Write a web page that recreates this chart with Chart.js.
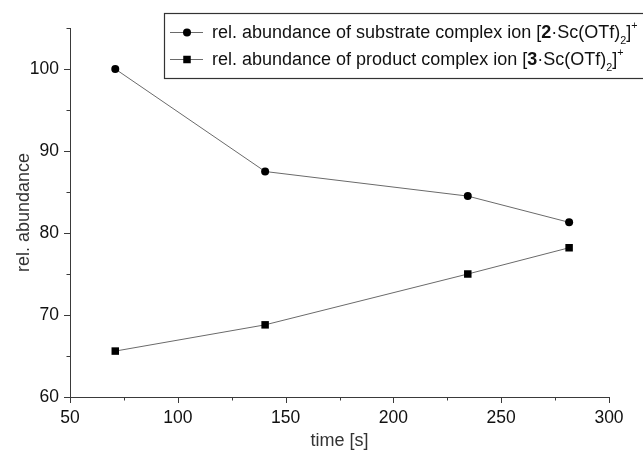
<!DOCTYPE html>
<html>
<head>
<meta charset="utf-8">
<script src="https://cdn.jsdelivr.net/npm/chart.js@4.4.1/dist/chart.umd.min.js"></script>
<style>
  html, body { margin: 0; padding: 0; background: #fff; }
  #wrap { width: 643px; height: 452px; }
</style>
</head>
<body>
<div id="wrap"><canvas id="c" width="643" height="452"></canvas></div>
<script>
// Reaction time in seconds
const timeS = [71, 140.5, 234.5, 281.5];
// Relative abundance of the substrate complex ion [2·Sc(OTf)2]+
const substrate = [100, 87.5, 84.5, 81.3];
// Relative abundance of the product complex ion [3·Sc(OTf)2]+
const product = [65.6, 68.8, 75.0, 78.2];

const xMajor = [50, 100, 150, 200, 250, 300];
const xMinor = [75, 125, 175, 225, 275];
const yMajor = [60, 70, 80, 90, 100];
const yMinor = [65, 75, 85, 95, 105];

// legend entries: rich text pieces (plain / bold / sub / sup)
const legendItems = [
  { marker: 'circle', parts: [
    ['rel. abundance of substrate complex ion [', 'n'], ['2', 'b'], ['·Sc(OTf)', 'n'],
    ['2', 'sub'], [']', 'n'], ['+', 'sup'] ] },
  { marker: 'rect', parts: [
    ['rel. abundance of product complex ion [', 'n'], ['3', 'b'], ['·Sc(OTf)', 'n'],
    ['2', 'sub'], [']', 'n'], ['+', 'sup'] ] }
];

const FONT = '"Liberation Sans", Arial, Helvetica, sans-serif';
const LINE = '#6a6a6a';
const AXIS = '#3a3a3a';

function pts(xs, ys) { return xs.map((x, i) => ({ x: x, y: ys[i] })); }

function drawMarker(ctx, kind, x, y) {
  ctx.fillStyle = '#000';
  ctx.beginPath();
  if (kind === 'circle') {
    ctx.arc(x, y, 4, 0, Math.PI * 2);
    ctx.fill();
  } else {
    ctx.fillRect(x - 3.75, y - 3.75, 7.5, 7.5);
  }
}

// outward tick marks, major and minor
const ticksPlugin = {
  id: 'outTicks',
  afterDraw(chart) {
    const ctx = chart.ctx;
    const xs = chart.scales.x, ys = chart.scales.y;
    const a = chart.chartArea;
    ctx.save();
    ctx.strokeStyle = AXIS;
    ctx.lineWidth = 1;
    ctx.beginPath();
    const xt = (v, len) => {
      const px = Math.round(xs.getPixelForValue(v)) + 0.5;
      ctx.moveTo(px, a.bottom); ctx.lineTo(px, a.bottom + len);
    };
    const yt = (v, len) => {
      const py = Math.round(ys.getPixelForValue(v)) + 0.5;
      ctx.moveTo(a.left, py); ctx.lineTo(a.left - len, py);
    };
    xMajor.forEach(v => xt(v, 6));
    xMinor.forEach(v => xt(v, 3.5));
    yMajor.forEach(v => yt(v, 6));
    yMinor.forEach(v => yt(v, 3.5));
    ctx.stroke();
    ctx.restore();
  }
};

// boxed legend with chemical formula text
const legendPlugin = {
  id: 'formulaLegend',
  afterDraw(chart) {
    const ctx = chart.ctx;
    const boxL = 164.5, boxT = 13.5, boxB = 78.5;
    ctx.save();
    ctx.strokeStyle = '#333';
    ctx.lineWidth = 1.2;
    ctx.strokeRect(boxL, boxT, 700 - boxL, boxB - boxT);
    const rows = [32, 59];
    const size = 18;
    legendItems.forEach((item, i) => {
      const y = rows[i];
      ctx.strokeStyle = LINE;
      ctx.lineWidth = 1;
      ctx.beginPath();
      ctx.moveTo(170, y + 0.5); ctx.lineTo(203, y + 0.5);
      ctx.stroke();
      drawMarker(ctx, item.marker, 187, y + 0.5);
      let x = 212;
      ctx.fillStyle = '#111';
      ctx.textBaseline = 'alphabetic';
      const base = y + size * 0.36;
      item.parts.forEach(([txt, kind]) => {
        let f = size, weight = 'normal', dy = 0;
        if (kind === 'b') weight = 'bold';
        if (kind === 'sub') { f = size * 0.6; dy = size * 0.3; }
        if (kind === 'sup') { f = size * 0.6; dy = -size * 0.55; }
        ctx.font = weight + ' ' + f + 'px ' + FONT;
        ctx.fillText(txt, x, base + dy);
        x += ctx.measureText(txt).width;
      });
    });
    ctx.restore();
  }
};

const commonDataset = {
  borderColor: LINE,
  borderWidth: 1,
  pointBackgroundColor: '#000',
  pointBorderColor: '#000',
  pointBorderWidth: 0,
  pointHoverRadius: 4,
  fill: false,
  tension: 0
};

new Chart(document.getElementById('c'), {
  type: 'line',
  data: {
    datasets: [
      Object.assign({}, commonDataset, {
        label: 'rel. abundance of substrate complex ion [2·Sc(OTf)2]+',
        data: pts(timeS, substrate),
        pointStyle: 'circle',
        pointRadius: 4
      }),
      Object.assign({}, commonDataset, {
        label: 'rel. abundance of product complex ion [3·Sc(OTf)2]+',
        data: pts(timeS, product),
        pointStyle: 'rect',
        pointRadius: 5.3
      })
    ]
  },
  options: {
    responsive: false,
    animation: false,
    devicePixelRatio: 1,
    layout: { padding: { top: 28, right: 34, left: 0, bottom: 0 } },
    plugins: {
      legend: { display: false },
      tooltip: { enabled: false }
    },
    scales: {
      x: {
        type: 'linear',
        position: 'bottom',
        min: 50,
        max: 300,
        afterBuildTicks: s => { s.ticks = xMajor.map(v => ({ value: v })); },
        afterFit: s => { s.height = 55; },
        grid: { display: true, drawOnChartArea: false, drawTicks: false },
        border: { display: true, color: AXIS, width: 1 },
        ticks: {
          padding: 11,
          color: '#111',
          font: { family: FONT, size: 17.5 },
          maxRotation: 0
        },
        title: {
          display: true,
          text: 'time [s]',
          color: '#333',
          font: { family: FONT, size: 18 },
          padding: { top: 0, bottom: 0 }
        }
      },
      y: {
        type: 'linear',
        min: 60,
        max: 105,
        afterBuildTicks: s => { s.ticks = yMajor.map(v => ({ value: v })); },
        afterFit: s => { s.width = 70; },
        grid: { display: true, drawOnChartArea: false, drawTicks: false },
        border: { display: true, color: AXIS, width: 1 },
        ticks: {
          padding: 11,
          color: '#111',
          font: { family: FONT, size: 17.5 }
        },
        title: {
          display: true,
          text: 'rel. abundance',
          color: '#333',
          font: { family: FONT, size: 18 },
          padding: { top: 13, bottom: 0 }
        }
      }
    }
  },
  plugins: [ticksPlugin, legendPlugin]
});
</script>
</body>
</html>
